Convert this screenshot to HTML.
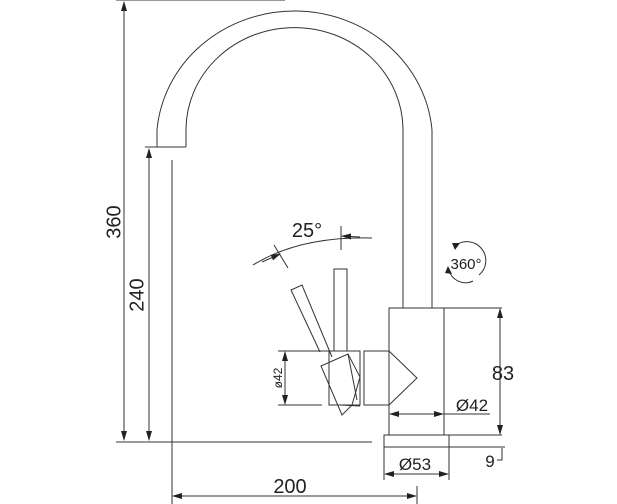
<!DOCTYPE html>
<html><head><style>
html,body{margin:0;padding:0;background:#fff}
svg{display:block}
text{font-family:"Liberation Sans",sans-serif;fill:#222}
</style></head><body>
<svg width="617" height="504" viewBox="0 0 617 504" xmlns="http://www.w3.org/2000/svg">
<defs>
<marker id="a" markerWidth="10" markerHeight="6" refX="9" refY="3" orient="auto" markerUnits="userSpaceOnUse">
<path d="M0,0 L10,3 L0,6 z" fill="#222"/></marker>
</defs>
<g fill="none" stroke="#333" stroke-width="1">
<path d="M157,147 L157,130 A138,130 0 0 1 432,130 L432,308"/>
<path d="M186,147 L186,130 A108,102 0 0 1 403,130 L403,308"/>
<path d="M145,147 L186,147"/>
<path d="M116,0 L285,0"/>
<path d="M172,160 L172,504"/>
<path d="M116,442 L372,442"/>
<path d="M124,440 L124,2" marker-end="url(#a)"/>
<path d="M124,10 L124,440" marker-end="url(#a)"/>
<path d="M149,440 L149,149" marker-end="url(#a)"/>
<path d="M149,160 L149,440" marker-end="url(#a)"/>
<rect x="389" y="308" width="55" height="127"/>
<path d="M444,308 L502,308 M444,435 L502,435"/>
<path d="M500,420 L500,309" marker-end="url(#a)"/>
<path d="M500,320 L500,434" marker-end="url(#a)"/>
<rect x="384" y="435" width="65" height="12"/>
<path d="M449,447 L505,447"/>
<path d="M502,448 L502,460 L497,460"/>
<path d="M384,447 L384,480 M449,447 L449,480"/>
<path d="M420,474 L385,474" marker-end="url(#a)"/>
<path d="M410,474 L448,474" marker-end="url(#a)"/>
<path d="M417,486 L417,504"/>
<path d="M300,496 L173,496" marker-end="url(#a)"/>
<path d="M290,496 L416,496" marker-end="url(#a)"/>
<path d="M420,414 L390,414" marker-end="url(#a)"/>
<path d="M410,414 L443,414" marker-end="url(#a)"/>
<path d="M444,414 L490,414"/>
<path d="M364,351 L389,351 L417,378 L389,405 L364,405 Z"/>
<path d="M360,351 L360,405"/>
<rect x="329" y="351" width="31" height="54"/>
<rect x="334" y="269" width="13" height="82"/>
<path d="M320,352 L291,290 L302,285 L332,357"/>
<path d="M321,366 L348,354 L360,377 L352,405 L342,415 Z"/>
<path d="M348,354 L357,400 M340,405 L360,406"/>
<path d="M278,351 L329,351 M278,405 L322,405"/>
<path d="M285,380 L285,352" marker-end="url(#a)"/>
<path d="M285,375 L285,404" marker-end="url(#a)"/>
<path d="M253,265 Q300,236 372,238"/>
<path d="M341,226 L341,250"/>
<path d="M274,245 L288,268"/>
<path d="M262,262 L280,254" marker-end="url(#a)"/>
<path d="M360,237 L342,236" marker-end="url(#a)"/>
<path d="M455,246 A17,17 0 0 1 479,275"/>
<path d="M473,281 A17,17 0 0 1 449,270"/>
</g>
<path d="M452,243 L460,243 L455,250 z" fill="#222"/>
<path d="M448,266 L452,274 L445,273 z" fill="#222"/>
<g font-size="20">
<text x="115" y="222" text-anchor="middle" dominant-baseline="middle" transform="rotate(-90 115 222)">360</text>
<text x="138" y="295" text-anchor="middle" dominant-baseline="middle" transform="rotate(-90 138 295)">240</text>
<text x="307" y="237" text-anchor="middle">25°</text>
<text x="503" y="380" text-anchor="middle">83</text>
<text x="290" y="493" text-anchor="middle">200</text>
</g>
<g font-size="17">
<text x="472" y="411" text-anchor="middle">Ø42</text>
<text x="415" y="470" text-anchor="middle">Ø53</text>
<text x="490" y="467" text-anchor="middle">9</text>
</g>
<text x="466" y="269" font-size="15" text-anchor="middle">360°</text>
<text x="279" y="378" font-size="12" text-anchor="middle" dominant-baseline="middle" transform="rotate(-90 279 378)">ø42</text>
</svg>
</body></html>
